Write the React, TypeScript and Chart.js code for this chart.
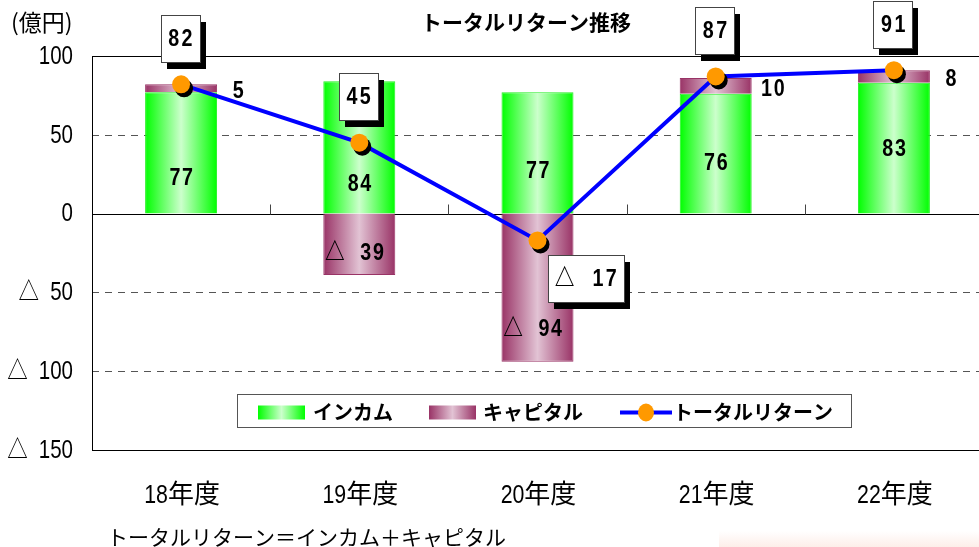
import { useEffect, useRef } from "react";
import { Chart, registerables } from "chart.js";

Chart.register(...registerables);

// ---- data -------------------------------------------------------------
const categories = ["18年度", "19年度", "20年度", "21年度", "22年度"];
const income = [77, 84, 77, 76, 83];
const capital = [5, -39, -94, 10, 8];
const total = [82, 45, -17, 87, 91];
const yTickValues = [100, 50, 0, -50, -100, -150];

// vertical nudges (px) for the in-bar value labels, from the segment middle
const incomeLabelNudge = [25, 37, 18, 10, 1];
const capitalLabelNudge = [3, 9, 42, 3, 3];

const FONT = '"Liberation Sans", "Noto Sans CJK JP", sans-serif';
const JP = '"Noto Sans CJK JP", "Noto Sans CJK SC", sans-serif';

const BAR_PCT = 0.404;
const GREEN_EDGE = "#00ff00";
const GREEN_MID = "#ccffcc";
const MAROON_EDGE = "#993366";
const MAROON_MID = "#e2c3d4";
const LINE_BLUE = "#0000ff";
const DOT_ORANGE = "#ff9900";

const fmt = (v: number) => (v < 0 ? `△ ${-v}` : String(v));

// horizontal scale per character: kana / kanji full width, spaces a bit
// wider, digits and symbols condensed
function charScale(ch: string) {
  if (/[\u3040-\u30ff\u4e00-\u9fff\uff00-\uffef]/.test(ch)) return 1;
  if (ch === " ") return 1.6;
  return 0.82;
}

function runs(text: string) {
  const out: { s: string; k: number }[] = [];
  for (const ch of text) {
    const k = charScale(ch);
    const last = out[out.length - 1];
    if (last && last.k === k) last.s += ch;
    else out.push({ s: ch, k });
  }
  return out;
}

function mixedWidth(ctx: CanvasRenderingContext2D, text: string) {
  return runs(text).reduce((w, r) => w + ctx.measureText(r.s).width * r.k, 0);
}

function drawMixed(
  ctx: CanvasRenderingContext2D,
  text: string,
  x: number,
  y: number,
  align: "left" | "center" | "right"
) {
  const total = mixedWidth(ctx, text);
  let cx = align === "left" ? x : align === "center" ? x - total / 2 : x - total;
  ctx.save();
  ctx.textAlign = "left";
  for (const r of runs(text)) {
    const w = ctx.measureText(r.s).width;
    ctx.save();
    ctx.translate(cx, y);
    ctx.scale(r.k, 1);
    ctx.fillText(r.s, 0, 0);
    ctx.restore();
    cx += w * r.k;
  }
  ctx.restore();
}

function barGradient(chart: any, index: number, edge: string, mid: string) {
  const xs = chart.scales?.x;
  if (!xs || !chart.chartArea) return edge;
  const cx = xs.getPixelForValue(index);
  const half = ((xs.width / categories.length) * BAR_PCT) / 2;
  const g = chart.ctx.createLinearGradient(cx - half, 0, cx + half, 0);
  g.addColorStop(0, edge);
  g.addColorStop(0.5, mid);
  g.addColorStop(1, edge);
  return g;
}

function legendGradient(ctx: CanvasRenderingContext2D, x: number, w: number, edge: string, mid: string) {
  const g = ctx.createLinearGradient(x, 0, x + w, 0);
  g.addColorStop(0, edge);
  g.addColorStop(0.5, mid);
  g.addColorStop(1, edge);
  return g;
}

// grid, frame, axis labels and the short category ticks on the zero line
const framePlugin = {
  id: "frame",
  beforeDatasetsDraw(chart: any) {
    const { ctx, chartArea: a, scales } = chart;
    const x = scales.x;
    const y = scales.y;
    ctx.save();
    ctx.lineWidth = 1;
    ctx.strokeStyle = "#555";
    ctx.setLineDash([7, 6]);
    for (const v of yTickValues) {
      if (v === 0 || v === y.min || v === y.max) continue;
      const py = Math.round(y.getPixelForValue(v)) + 0.5;
      ctx.beginPath();
      ctx.moveTo(a.left, py);
      ctx.lineTo(a.right, py);
      ctx.stroke();
    }
    ctx.setLineDash([]);
    ctx.strokeStyle = "#000";
    ctx.strokeRect(Math.round(a.left) + 0.5, Math.round(a.top) + 0.5, a.right - a.left, Math.round(a.bottom - a.top));
    const y0 = Math.round(y.getPixelForValue(0)) + 0.5;
    ctx.beginPath();
    ctx.moveTo(a.left, y0);
    ctx.lineTo(a.right, y0);
    ctx.stroke();
    ctx.strokeStyle = "#444";
    for (let i = 1; i < categories.length; i++) {
      const bx = Math.round((x.getPixelForValue(i - 1) + x.getPixelForValue(i)) / 2) + 0.5;
      ctx.beginPath();
      ctx.moveTo(bx, y0);
      ctx.lineTo(bx, y0 - 10);
      ctx.stroke();
    }

    // axis labels
    ctx.fillStyle = "#000";
    ctx.textBaseline = "middle";
    ctx.font = `25px ${FONT}`;
    for (const t of y.ticks) {
      drawMixed(ctx, fmt(t.value), a.left - 19, y.getPixelForValue(t.value) + 1, "right");
    }
    ctx.font = `26px ${FONT}`;
    x.getLabels().forEach((lab: string, i: number) => {
      drawMixed(ctx, lab, x.getPixelForValue(i) + 1, a.bottom + 46, "center");
    });
    ctx.restore();
  },
};

function drawBoxLabel(ctx: CanvasRenderingContext2D, text: string, cx: number, cy: number) {
  ctx.save();
  ctx.font = `bold 24px ${FONT}`;
  (ctx as any).letterSpacing = "3px";
  const tw = mixedWidth(ctx, text);
  const w = Math.round(tw + 12);
  const h = 47;
  const l = Math.round(cx - w / 2);
  const t = Math.round(cy - h / 2);
  ctx.fillStyle = "#000";
  ctx.fillRect(l + 6, t + 7, w, h);
  ctx.fillStyle = "#fff";
  ctx.fillRect(l, t, w, h);
  ctx.strokeStyle = "#444";
  ctx.lineWidth = 1;
  ctx.strokeRect(l + 0.5, t + 0.5, w, h);
  ctx.fillStyle = "#000";
  ctx.textBaseline = "middle";
  drawMixed(ctx, text, cx + 1.5, cy + 1, "center");
  ctx.restore();
}

// markers of the total line, and every value label
const labelPlugin = {
  id: "labels",
  afterDatasetsDraw(chart: any) {
    const { ctx } = chart;
    const y = chart.scales.y;
    const lineMeta = chart.getDatasetMeta(0);
    const incMeta = chart.getDatasetMeta(1);
    const capMeta = chart.getDatasetMeta(2);

    ctx.save();
    // markers with a dark drop shadow
    lineMeta.data.forEach((pt: any) => {
      ctx.fillStyle = "#000";
      ctx.beginPath();
      ctx.arc(pt.x + 3, pt.y + 4, 9, 0, Math.PI * 2);
      ctx.fill();
      ctx.fillStyle = DOT_ORANGE;
      ctx.beginPath();
      ctx.arc(pt.x, pt.y, 9, 0, Math.PI * 2);
      ctx.fill();
    });

    ctx.fillStyle = "#000";
    ctx.textBaseline = "middle";
    ctx.font = `bold 24px ${FONT}`;
    (ctx as any).letterSpacing = "2px";

    // income labels inside the green segments
    incMeta.data.forEach((bar: any, i: number) => {
      const mid = (y.getPixelForValue(0) + y.getPixelForValue(income[i])) / 2;
      drawMixed(ctx, fmt(income[i]), bar.x + 1, mid + incomeLabelNudge[i], "center");
    });

    // capital labels: beside the bar when small and positive, inside when negative
    capMeta.data.forEach((bar: any, i: number) => {
      const v = capital[i];
      const base = v >= 0 ? income[i] : 0;
      const mid = (y.getPixelForValue(base) + y.getPixelForValue(base + v)) / 2;
      if (v >= 0) {
        drawMixed(ctx, fmt(v), bar.x + bar.width / 2 + 22, mid + capitalLabelNudge[i], "center");
      } else {
        drawMixed(ctx, fmt(v), bar.x - 4, mid + capitalLabelNudge[i], "center");
      }
    });

    // boxed totals
    lineMeta.data.forEach((pt: any, i: number) => {
      if (total[i] >= 0) drawBoxLabel(ctx, fmt(total[i]), pt.x - 1, pt.y - 46);
      else drawBoxLabel(ctx, fmt(total[i]), pt.x + 48, pt.y + 38);
    });
    ctx.restore();
  },
  afterDraw(chart: any) {
    const { ctx } = chart;
    ctx.save();
    ctx.fillStyle = "#000";
    ctx.textBaseline = "middle";

    // title and unit
    ctx.font = `bold 21px ${JP}`;
    ctx.textAlign = "center";
    ctx.fillText("トータルリターン推移", 526, 22);
    ctx.font = `23px ${JP}`;
    ctx.textAlign = "left";
    ctx.fillText("(億円)", 11, 22);

    // legend
    const lx = 237, ly = 394, lw = 614, lh = 33;
    ctx.fillStyle = "#fff";
    ctx.fillRect(lx, ly, lw, lh);
    ctx.strokeStyle = "#555";
    ctx.lineWidth = 1;
    ctx.strokeRect(lx + 0.5, ly + 0.5, lw, lh);
    const cy = ly + lh / 2 + 2;
    ctx.font = `bold 20px ${JP}`;
    ctx.textAlign = "left";
    let cx = lx + 21;
    ctx.fillStyle = legendGradient(ctx, cx, 47, GREEN_EDGE, GREEN_MID);
    ctx.fillRect(cx, cy - 7, 47, 14);
    cx += 55;
    ctx.fillStyle = "#000";
    ctx.fillText("インカム", cx, cy);
    cx += ctx.measureText("インカム").width + 36;
    ctx.fillStyle = legendGradient(ctx, cx, 47, MAROON_EDGE, MAROON_MID);
    ctx.fillRect(cx, cy - 7, 47, 14);
    cx += 54;
    ctx.fillStyle = "#000";
    ctx.fillText("キャピタル", cx, cy);
    cx += ctx.measureText("キャピタル").width + 37;
    ctx.strokeStyle = LINE_BLUE;
    ctx.lineWidth = 4;
    ctx.beginPath();
    ctx.moveTo(cx, cy);
    ctx.lineTo(cx + 52, cy);
    ctx.stroke();
    ctx.fillStyle = DOT_ORANGE;
    ctx.beginPath();
    ctx.ellipse(cx + 26, cy, 8, 9, 0, 0, Math.PI * 2);
    ctx.fill();
    cx += 53;
    ctx.fillStyle = "#000";
    ctx.fillText("トータルリターン", cx, cy);

    // footnote
    ctx.font = `21px ${JP}`;
    ctx.fillText("トータルリターン＝インカム＋キャピタル", 107, 537);
    ctx.restore();
  },
};

export default function App() {
  const canvasRef = useRef<HTMLCanvasElement | null>(null);

  useEffect(() => {
    const canvas = canvasRef.current;
    if (!canvas) return;
    const chart = new Chart(canvas, {
      type: "bar",
      data: {
        labels: categories,
        datasets: [
          {
            type: "line",
            label: "トータルリターン",
            data: total,
            borderColor: LINE_BLUE,
            borderWidth: 4,
            pointRadius: 0,
            tension: 0,
            order: 0,
          } as any,
          {
            label: "インカム",
            data: income,
            stack: "tr",
            order: 1,
            backgroundColor: (c: any) => barGradient(c.chart, c.dataIndex, GREEN_EDGE, GREEN_MID),
            borderColor: "#22ee22",
            borderWidth: 1,
            categoryPercentage: 1,
            barPercentage: BAR_PCT,
          },
          {
            label: "キャピタル",
            data: capital,
            stack: "tr",
            order: 1,
            backgroundColor: (c: any) => barGradient(c.chart, c.dataIndex, MAROON_EDGE, MAROON_MID),
            borderColor: MAROON_EDGE,
            borderWidth: 1,
            categoryPercentage: 1,
            barPercentage: BAR_PCT,
          },
        ],
      },
      options: {
        responsive: false,
        animation: false,
        devicePixelRatio: 1,
        layout: { padding: { top: 56, right: 7, bottom: 0, left: 0 } },
        plugins: { legend: { display: false }, tooltip: { enabled: false } },
        scales: {
          x: {
            stacked: true,
            grid: { display: false, drawTicks: false },
            border: { display: false },
            ticks: { display: false },
            afterFit: (s: any) => {
              s.height = 97;
            },
          },
          y: {
            stacked: true,
            min: -150,
            max: 100,
            grid: { display: false, drawTicks: false },
            border: { display: false },
            ticks: { display: false, stepSize: 50 },
            afterFit: (s: any) => {
              s.width = 92;
            },
          },
        },
      },
      plugins: [framePlugin, labelPlugin],
    });
    return () => chart.destroy();
  }, []);

  return (
    <div
      style={{
        position: "fixed",
        left: 0,
        top: 0,
        width: 979,
        height: 547,
        overflow: "hidden",
        background: "#fff",
      }}
    >
      <div
        style={{
          position: "absolute",
          left: 719,
          top: 531,
          width: 260,
          height: 16,
          background: "linear-gradient(to bottom, rgba(253,242,238,0), #fdeee9)",
        }}
      />
      <canvas
        ref={canvasRef}
        width={990}
        height={547}
        style={{ position: "absolute", left: 0, top: 0, width: 990, height: 547 }}
      />
    </div>
  );
}
